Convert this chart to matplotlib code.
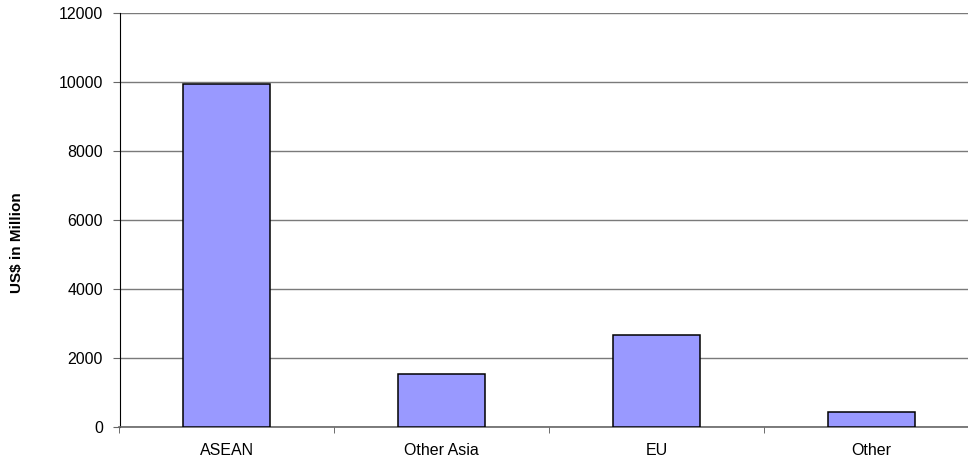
import numpy as np
import matplotlib
matplotlib.use("Agg")
import matplotlib.pyplot as plt

# region values (US$ million)
regions = ["ASEAN", "Other Asia", "EU", "Other"]
values = [9940, 1520, 2670, 435]
yticks = [0, 2000, 4000, 6000, 8000, 10000, 12000]

plt.rcParams['font.family'] = ['Liberation Sans', 'DejaVu Sans']

fig = plt.figure(figsize=(9.68, 4.61), dpi=100)
ax = fig.add_axes([119.5 / 968, 34.3 / 461, 859.5 / 968, 413.7 / 461])

x = np.arange(len(regions))
ax.bar(x, values, width=0.405, color='#9999FF', edgecolor='black', linewidth=1.1, zorder=3)

# category axis with ticks between categories
ax.set_xlim(-0.5, len(regions) - 0.5)
ax.set_xticks(x)
ax.set_xticklabels(regions, fontsize=11.5)
ax.set_xticks(np.arange(len(regions) + 1) - 0.5, minor=True)
ax.tick_params(axis='x', which='major', length=0, pad=11.5)
ax.tick_params(axis='x', which='minor', length=4, color='#555555', direction='out')

ax.set_ylim(0, 12000)
ax.set_yticks(yticks)
ax.set_yticklabels([str(v) for v in yticks], fontsize=11.5)
ax.tick_params(axis='y', length=5, color='#666666', pad=7)
ax.yaxis.grid(True, color='#7a7a7a', linewidth=1.0, zorder=0)

for s in ['top', 'right']:
    ax.spines[s].set_visible(False)
ax.spines['left'].set_color('black')
ax.spines['bottom'].set_color('#666666')
ax.spines['bottom'].set_linewidth(1.2)

fig.text(17 / 968, 218 / 461, "US$ in Million", rotation=90, fontsize=11, fontweight='bold',
         ha='center', va='center')

fig.savefig("out.png", dpi=100)
